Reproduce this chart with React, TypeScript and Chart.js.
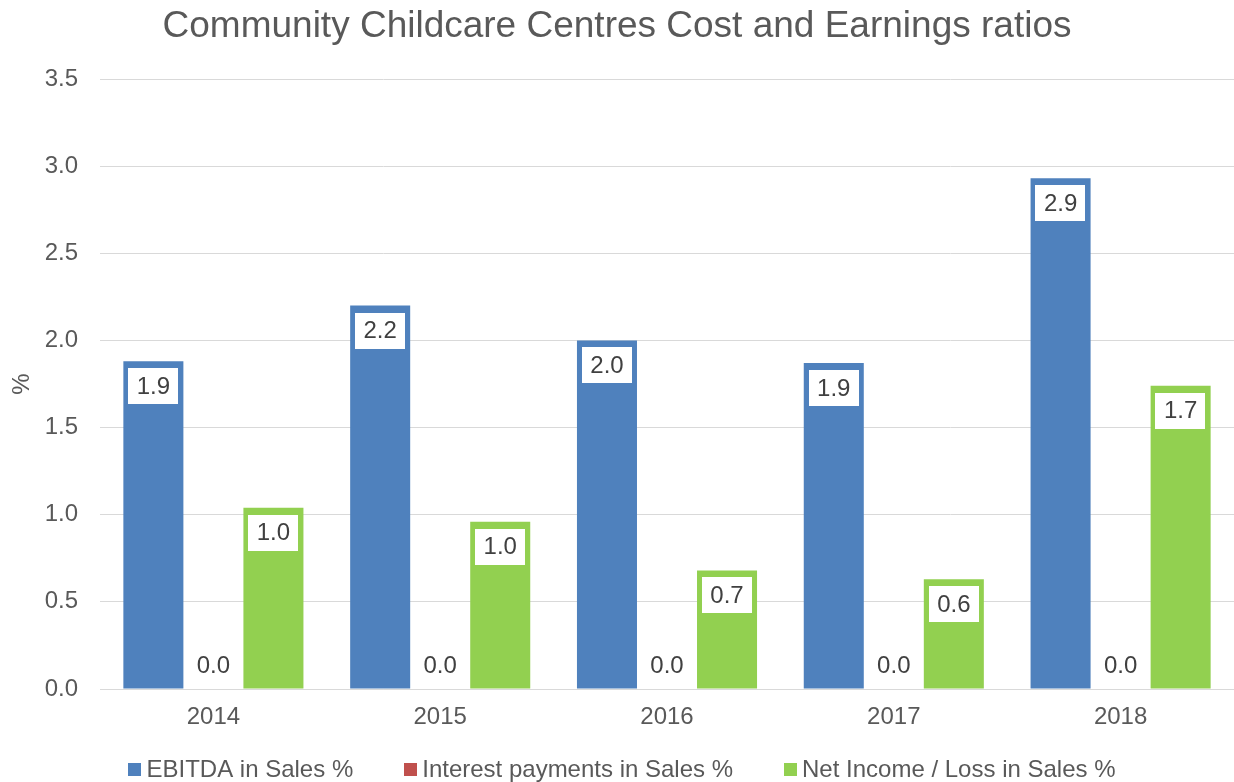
import React, { useEffect, useRef } from "react";
import { Chart, registerables } from "chart.js";

Chart.register(...registerables);

const years = ["2014", "2015", "2016", "2017", "2018"];
const ebitda = [1.88, 2.2, 2.0, 1.87, 2.93];
const interest = [0.0, 0.0, 0.0, 0.0, 0.0];
const netIncome = [1.04, 0.96, 0.68, 0.63, 1.74];
const seriesNames = ["EBITDA in Sales %", "Interest payments in Sales %", "Net Income / Loss in Sales %"];
const seriesColors = ["#4F81BD", "#C0504D", "#92D050"];
const titleText = "Community Childcare Centres Cost and Earnings ratios";
const yTitle = "%";

const FONT = "'Liberation Sans', Arial, sans-serif";

const labelPlugin = {
  id: "boxLabels",
  afterDatasetsDraw(chart: any) {
    const ctx = chart.ctx;
    ctx.save();
    ctx.font = `24px ${FONT}`;
    ctx.textAlign = "center";
    ctx.textBaseline = "middle";
    chart.data.datasets.forEach((ds: any, i: number) => {
      const meta = chart.getDatasetMeta(i);
      meta.data.forEach((bar: any, j: number) => {
        const v = ds.data[j];
        const p = bar.getProps(["x", "y", "base"], true);
        const text = v.toFixed(1);
        const w = ctx.measureText(text).width + 17;
        const h = 36;
        const cy = v > 0 ? p.y + 7 + h / 2 : p.base - 24;
        ctx.fillStyle = "#FFFFFF";
        ctx.fillRect(Math.round(p.x - w / 2), Math.round(cy - h / 2), Math.round(w), h);
        ctx.fillStyle = "#404040";
        ctx.fillText(text, p.x, cy + 1);
      });
    });
    ctx.restore();
  },
};

const legendPlugin = {
  id: "customLegend",
  afterDraw(chart: any) {
    const ctx = chart.ctx;
    ctx.save();
    ctx.font = `24px ${FONT}`;
    ctx.textBaseline = "middle";
    ctx.textAlign = "left";
    const box = 13, gap = 5, spacing = 51;
    const items = chart.data.datasets.map((ds: any) => ({
      label: ds.label,
      color: ds.backgroundColor,
      w: ctx.measureText(ds.label).width,
    }));
    let total = 0;
    items.forEach((it: any, k: number) => {
      total += box + gap + it.w + (k < items.length - 1 ? spacing : 0);
    });
    let x = chart.width / 2 - total / 2 + 5;
    const cy = 769;
    items.forEach((it: any) => {
      ctx.fillStyle = it.color;
      ctx.fillRect(Math.round(x), cy - 6, box, box);
      ctx.fillStyle = "#595959";
      ctx.fillText(it.label, x + box + gap, cy + 1);
      x += box + gap + it.w + spacing;
    });
    ctx.restore();
  },
};

export default function App() {
  const ref = useRef<HTMLCanvasElement>(null);
  useEffect(() => {
    if (!ref.current) return;
    const chart = new Chart(ref.current, {
      type: "bar",
      data: {
        labels: years,
        datasets: [
          { label: seriesNames[0], data: ebitda, backgroundColor: seriesColors[0] },
          { label: seriesNames[1], data: interest, backgroundColor: seriesColors[1] },
          { label: seriesNames[2], data: netIncome, backgroundColor: seriesColors[2] },
        ],
      },
      options: {
        animation: false,
        responsive: false,
        layout: { padding: { top: 0, left: 0, right: 0, bottom: 48 } },
        datasets: { bar: { categoryPercentage: 0.794, barPercentage: 1.0 } },
        plugins: {
          legend: { display: false },
          tooltip: { enabled: false },
          title: {
            display: true,
            text: titleText,
            color: "#595959",
            font: { family: FONT, size: 37, weight: "normal" },
            padding: { top: 5, bottom: 29.6 },
          },
        },
        scales: {
          x: {
            grid: { display: false, drawTicks: false },
            border: { display: true, color: "#D9D9D9", width: 1 },
            ticks: { color: "#595959", font: { family: FONT, size: 24 }, padding: 14 },
            afterFit: (s: any) => { s.height = 45; },
          },
          y: {
            min: 0,
            max: 3.5,
            ticks: {
              stepSize: 0.5,
              color: "#595959",
              font: { family: FONT, size: 24 },
              padding: 22,
              callback: (v: any) => Number(v).toFixed(1),
            },
            grid: { color: "#D9D9D9", lineWidth: 1, drawTicks: false },
            border: { display: false },
            title: {
              display: true,
              text: yTitle,
              color: "#595959",
              font: { family: FONT, size: 24 },
              padding: { top: 8, bottom: 0 },
            },
            afterFit: (s: any) => { s.width = 100; },
          },
        },
      },
      plugins: [labelPlugin, legendPlugin],
    });
    return () => chart.destroy();
  }, []);
  return (
    <div style={{ position: "absolute", left: 0, top: 0, width: 1234, height: 782, background: "#fff" }}>
      <canvas ref={ref} width={1234} height={782} />
    </div>
  );
}
